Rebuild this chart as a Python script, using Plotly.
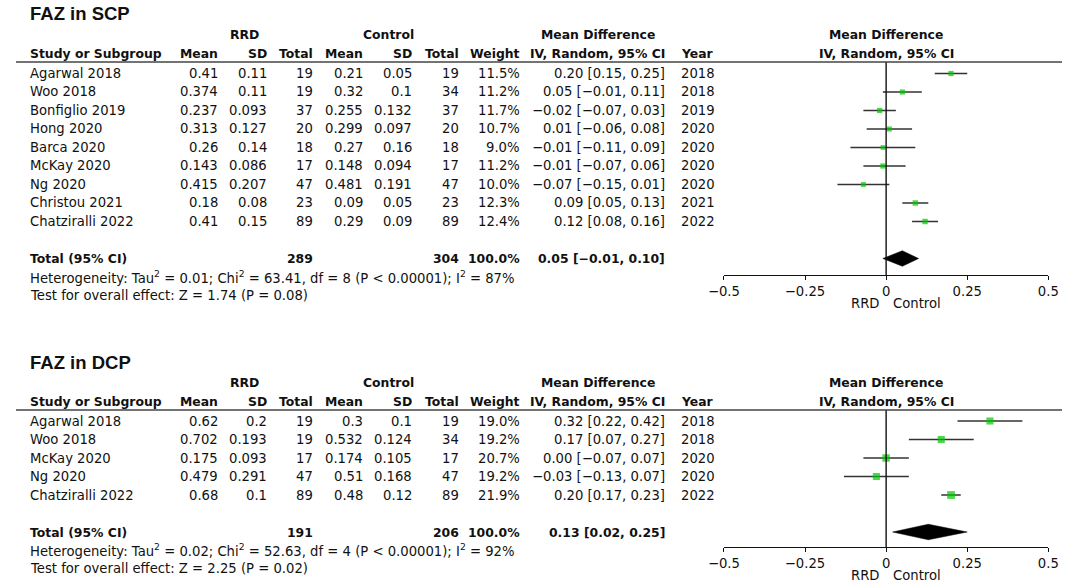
import plotly.graph_objects as go

W, H = 1072, 583
FONT = "DejaVu Sans"
INK = "#111111"
GREEN = "#00c800"

# FAZ in SCP
scp_study = ["Agarwal 2018", "Woo 2018", "Bonfiglio 2019", "Hong 2020", "Barca 2020",
             "McKay 2020", "Ng 2020", "Christou 2021", "Chatziralli 2022"]
scp_rrd_mean = [0.41, 0.374, 0.237, 0.313, 0.26, 0.143, 0.415, 0.18, 0.41]
scp_rrd_sd = [0.11, 0.11, 0.093, 0.127, 0.14, 0.086, 0.207, 0.08, 0.15]
scp_rrd_n = [19, 19, 37, 20, 18, 17, 47, 23, 89]
scp_ctl_mean = [0.21, 0.32, 0.255, 0.299, 0.27, 0.148, 0.481, 0.09, 0.29]
scp_ctl_sd = [0.05, 0.1, 0.132, 0.097, 0.16, 0.094, 0.191, 0.05, 0.09]
scp_ctl_n = [19, 34, 37, 20, 18, 17, 47, 23, 89]
scp_weight = [11.5, 11.2, 11.7, 10.7, 9.0, 11.2, 10.0, 12.3, 12.4]
scp_md = [0.20, 0.05, -0.02, 0.01, -0.01, -0.01, -0.07, 0.09, 0.12]
scp_lo = [0.15, -0.01, -0.07, -0.06, -0.11, -0.07, -0.15, 0.05, 0.08]
scp_hi = [0.25, 0.11, 0.03, 0.08, 0.09, 0.06, 0.01, 0.13, 0.16]
scp_year = [2018, 2018, 2019, 2020, 2020, 2020, 2020, 2021, 2022]
scp_pooled = [0.05, -0.01, 0.10]
scp_het = "Heterogeneity: Tau<sup>2</sup> = 0.01; Chi<sup>2</sup> = 63.41, df = 8 (P &lt; 0.00001); I<sup>2</sup> = 87%"
scp_test = "Test for overall effect: Z = 1.74 (P = 0.08)"

# FAZ in DCP
dcp_study = ["Agarwal 2018", "Woo 2018", "McKay 2020", "Ng 2020", "Chatziralli 2022"]
dcp_rrd_mean = [0.62, 0.702, 0.175, 0.479, 0.68]
dcp_rrd_sd = [0.2, 0.193, 0.093, 0.291, 0.1]
dcp_rrd_n = [19, 19, 17, 47, 89]
dcp_ctl_mean = [0.3, 0.532, 0.174, 0.51, 0.48]
dcp_ctl_sd = [0.1, 0.124, 0.105, 0.168, 0.12]
dcp_ctl_n = [19, 34, 17, 47, 89]
dcp_weight = [19.0, 19.2, 20.7, 19.2, 21.9]
dcp_md = [0.32, 0.17, 0.00, -0.03, 0.20]
dcp_lo = [0.22, 0.07, -0.07, -0.13, 0.17]
dcp_hi = [0.42, 0.27, 0.07, 0.07, 0.23]
dcp_year = [2018, 2018, 2020, 2020, 2022]
dcp_pooled = [0.13, 0.02, 0.25]
dcp_het = "Heterogeneity: Tau<sup>2</sup> = 0.02; Chi<sup>2</sup> = 52.63, df = 4 (P &lt; 0.00001); I<sup>2</sup> = 92%"
dcp_test = "Test for overall effect: Z = 2.25 (P = 0.02)"

tick_vals = [-0.5, -0.25, 0, 0.25, 0.5]
tick_text = ["\u22120.5", "\u22120.25", "0", "0.25", "0.5"]


def fmt(v, d=2):
    return f"{v:.{d}f}".replace("-", "\u2212")


def ci_text(m, l, h):
    return f"{fmt(m)} [{fmt(l)}, {fmt(h)}]"


def py(p):
    return 1 - p / H


def px(p):
    return p / W


# column positions in pixels (right edges unless noted)
COL = dict(study=13, rrd_mean=208, rrd_sd=258, rrd_n=305, ctl_mean=357, ctl_sd=407,
           ctl_n=455, weight=518, ci=666, year=680, rrd_head=234, ctl_head=382,
           md_head=596)
X_LO, X_HI = 725.5, 1058
DY = 18.5
SIZE, BSIZE = 13.2, 12.4

panels = [
    dict(title="FAZ in SCP", study=scp_study, rm=scp_rrd_mean, rs=scp_rrd_sd, rn=scp_rrd_n,
         cm=scp_ctl_mean, cs=scp_ctl_sd, cn=scp_ctl_n, w=scp_weight, md=scp_md, lo=scp_lo,
         hi=scp_hi, year=scp_year, pooled=scp_pooled, het=scp_het, test=scp_test,
         title_px=13, group_px=34.5, head_px=53.5, line_px=62, row0=73.5, axis_px=275,
         het_px=276.5, test_px=295, fav_px=303),
    dict(title="FAZ in DCP", study=dcp_study, rm=dcp_rrd_mean, rs=dcp_rrd_sd, rn=dcp_rrd_n,
         cm=dcp_ctl_mean, cs=dcp_ctl_sd, cn=dcp_ctl_n, w=dcp_weight, md=dcp_md, lo=dcp_lo,
         hi=dcp_hi, year=dcp_year, pooled=dcp_pooled, het=dcp_het, test=dcp_test,
         title_px=362, group_px=382.5, head_px=401.5, line_px=410, row0=421, axis_px=547,
         het_px=549.5, test_px=568, fav_px=575.5),
]

fig = go.Figure()
annotations = []
shapes = []
layout_axes = {}


def add_text(text, x, y, yref="paper", xanchor="right", bold=False, size=None, xref="paper",
             xshift=0, family=FONT):
    if size is None:
        size = BSIZE if bold else SIZE
    if bold:
        text = f"<b>{text}</b>"
    annotations.append(dict(text=text, x=x, y=y, xref=xref, yref=yref, xanchor=xanchor,
                            yanchor="middle", showarrow=False, xshift=xshift, borderpad=0,
                            font=dict(family=family, size=size, color=INK)))


for i, p in enumerate(panels):
    sfx = "" if i == 0 else str(i + 1)
    xa, ya = "x" + sfx, "y" + sfx
    n = len(p["study"])
    rows = list(range(n))
    total_row = n + 1

    r_axis = (p["axis_px"] - p["row0"]) / DY
    r_line = (p["line_px"] - p["row0"]) / DY

    # study CIs and boxes
    fig.add_trace(go.Scatter(
        x=p["md"], y=rows, xaxis=xa, yaxis=ya, mode="markers",
        marker=dict(symbol="square", color=GREEN, size=[2.5 + 0.24 * w for w in p["w"]],
                    line=dict(width=0)),
        error_x=dict(type="data", symmetric=False,
                     array=[h - m for h, m in zip(p["hi"], p["md"])],
                     arrayminus=[m - l for m, l in zip(p["md"], p["lo"])],
                     color="#333333", thickness=1.5, width=0),
        hoverinfo="skip", showlegend=False, cliponaxis=False))

    # pooled diamond
    m, l, h = p["pooled"]
    fig.add_trace(go.Scatter(
        x=[l, m, h, m, l], y=[total_row, total_row - 0.42, total_row, total_row + 0.42, total_row],
        xaxis=xa, yaxis=ya, mode="lines", fill="toself", fillcolor="black",
        line=dict(color="black", width=0.5), hoverinfo="skip", showlegend=False))

    dom_y = [py(p["axis_px"]), py(p["line_px"])]
    layout_axes["xaxis" + sfx] = dict(
        domain=[px(X_LO), px(X_HI)], range=[-0.5, 0.5], anchor=ya,
        showline=True, linecolor=INK, linewidth=1.4, showgrid=False, zeroline=False,
        ticks="outside", ticklen=4, tickwidth=1.4, tickcolor=INK,
        tickvals=tick_vals, ticktext=tick_text, ticklabelstandoff=0,
        tickfont=dict(family=FONT, size=SIZE, color=INK))
    layout_axes["yaxis" + sfx] = dict(
        domain=dom_y, range=[r_axis, r_line], anchor=xa, visible=False, showgrid=False,
        zeroline=False)
    # upward half of the crossing ticks
    ox = "xaxis" + str(3 + i)
    layout_axes[ox] = dict(
        overlaying=xa, anchor=ya, range=[-0.5, 0.5], showline=False, showgrid=False,
        zeroline=False, ticks="inside", ticklen=4, tickwidth=1.4, tickcolor=INK,
        tickvals=tick_vals, showticklabels=False, side="bottom")

    # zero line
    shapes.append(dict(type="line", xref=xa, x0=0, x1=0, yref=ya + " domain", y0=0, y1=1,
                       line=dict(color=INK, width=1.4)))
    # header rule
    shapes.append(dict(type="line", xref="paper", x0=0, x1=1, yref="paper",
                       y0=py(p["line_px"]), y1=py(p["line_px"]),
                       line=dict(color="#444444", width=1.6)))

    # title
    add_text(p["title"], px(13), py(p["title_px"]), xanchor="left", bold=True, size=18.5,
             family="Liberation Sans")

    # header rows
    gy = py(p["group_px"])
    add_text("RRD", px(COL["rrd_head"]), gy, xanchor="center", bold=True)
    add_text("Control", px(COL["ctl_head"]), gy, xanchor="center", bold=True)
    add_text("Mean Difference", px(COL["md_head"]), gy, xanchor="center", bold=True)
    add_text("Mean Difference", 0, gy, xref=xa, xanchor="center", bold=True)
    hy = py(p["head_px"])
    add_text("Study or Subgroup", px(COL["study"]), hy, xanchor="left", bold=True)
    for key, lab in [("rrd_mean", "Mean"), ("rrd_sd", "SD"), ("rrd_n", "Total"),
                     ("ctl_mean", "Mean"), ("ctl_sd", "SD"), ("ctl_n", "Total"),
                     ("weight", "Weight"), ("ci", "IV, Random, 95% CI")]:
        add_text(lab, px(COL[key]), hy, bold=True)
    add_text("Year", px(COL["year"]), hy, xanchor="left", bold=True)
    add_text("IV, Random, 95% CI", 0, hy, xref=xa, xanchor="center", bold=True)

    # study rows
    for r in rows:
        add_text(p["study"][r], px(COL["study"]), r, yref=ya, xanchor="left")
        add_text(str(p["rm"][r]), px(COL["rrd_mean"]), r, yref=ya)
        add_text(str(p["rs"][r]), px(COL["rrd_sd"]), r, yref=ya)
        add_text(str(p["rn"][r]), px(COL["rrd_n"]), r, yref=ya)
        add_text(str(p["cm"][r]), px(COL["ctl_mean"]), r, yref=ya)
        add_text(str(p["cs"][r]), px(COL["ctl_sd"]), r, yref=ya)
        add_text(str(p["cn"][r]), px(COL["ctl_n"]), r, yref=ya)
        add_text(f"{p['w'][r]:.1f}%", px(COL["weight"]), r, yref=ya)
        add_text(ci_text(p["md"][r], p["lo"][r], p["hi"][r]), px(COL["ci"]), r, yref=ya)
        add_text(str(p["year"][r]), px(COL["year"]), r, yref=ya, xanchor="left")

    # total row
    add_text("Total (95% CI)", px(COL["study"]), total_row, yref=ya, xanchor="left", bold=True)
    add_text(str(sum(p["rn"])), px(COL["rrd_n"]), total_row, yref=ya, bold=True)
    add_text(str(sum(p["cn"])), px(COL["ctl_n"]), total_row, yref=ya, bold=True)
    add_text("100.0%", px(COL["weight"]), total_row, yref=ya, bold=True)
    add_text(ci_text(m, l, h), px(COL["ci"]), total_row, yref=ya, bold=True)

    # footers
    add_text(p["het"], px(COL["study"]), py(p["het_px"]), xanchor="left")
    add_text(p["test"], px(COL["study"]), py(p["test_px"]), xanchor="left")

    # favours labels
    add_text("RRD", 0, py(p["fav_px"]), xref=xa, xanchor="right", xshift=-6)
    add_text("Control", 0, py(p["fav_px"]), xref=xa, xanchor="left", xshift=6)

fig.update_layout(
    width=W, height=H, margin=dict(l=0, r=0, t=0, b=0),
    paper_bgcolor="white", plot_bgcolor="white", showlegend=False,
    annotations=annotations, shapes=shapes, **layout_axes)

fig.write_html("out.html", config={"displayModeBar": False},
               post_script="document.body.style.margin='0px';")
